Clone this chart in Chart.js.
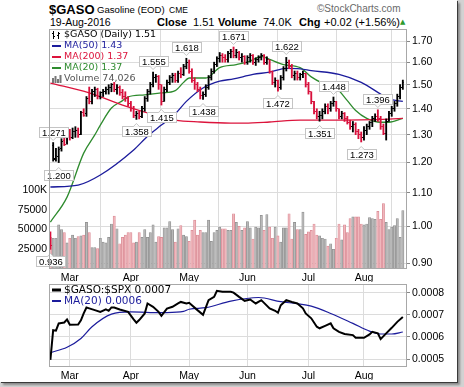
<!DOCTYPE html>
<html>
<head>
<meta charset="utf-8">
<script src="https://cdn.jsdelivr.net/npm/chart.js@4.4.1/dist/chart.umd.min.js"></script>
<style>
  html, body { margin: 0; padding: 0; background: #fff; }
  #page { position: relative; width: 464px; height: 387px; overflow: hidden; background: #d2d2d2; }
  #sheet { position: absolute; left: 0; top: 0; width: 457px; height: 382px; background: #fff;
           box-shadow: 1px 1px 0 #3a3a3a, 3px 3px 2px #8a8a8a; }
  .t { position: absolute; white-space: nowrap; line-height: 1; color: #000;
       font-family: "Liberation Sans", Arial, sans-serif; font-size: 10.5px; }
  .b { font-weight: bold; font-size: 11px; }
  #priceBox { position: absolute; left: 0; top: 0; width: 464px; height: 282px; }
  #ratioBox { position: absolute; left: 0; top: 268px; width: 464px; height: 119px; }
</style>
</head>
<body>
<div id="page">
  <div id="sheet"></div>
  <div class="t b" style="left:49px;top:3px;font-size:13px;">$GASO</div>
  <div class="t" style="left:97px;top:5px;font-size:9.6px;">Gasoline (EOD)</div>
  <div class="t" style="left:169px;top:6px;font-size:8.5px;">CME</div>
  <div class="t" style="left:317px;top:4px;font-size:10px;color:#6a6a6a;">&copy;StockCharts.com</div>
  <div class="t" style="left:50px;top:17px;">19-Aug-2016</div>
  <div class="t b" style="left:157px;top:17px;">Close</div>
  <div class="t" style="left:193px;top:17px;font-size:11px;">1.51</div>
  <div class="t b" style="left:218px;top:17px;">Volume</div>
  <div class="t" style="left:263px;top:17px;font-size:11px;">74.0K</div>
  <div class="t b" style="left:299px;top:17px;">Chg</div>
  <div class="t" style="left:324px;top:17px;font-size:11px;">+0.02 (+1.56%)</div>
  <div class="t" style="left:400px;top:19px;font-size:7px;color:#2e9a2e;font-family:'DejaVu Sans';">&#9650;</div>
  <div id="priceBox"><canvas id="priceChart"></canvas></div>
  <div id="ratioBox"><canvas id="ratioChart"></canvas></div>
</div>
<script>
// trading days shown on the chart
var dates = [
  '02/19','02/22','02/23','02/24','02/25','02/26','02/29',
  '03/01','03/02','03/03','03/04','03/07','03/08','03/09','03/10','03/11','03/14','03/15','03/16','03/17','03/18','03/21','03/22','03/23','03/24','03/28','03/29','03/30','03/31',
  '04/01','04/04','04/05','04/06','04/07','04/08','04/11','04/12','04/13','04/14','04/15','04/18','04/19','04/20','04/21','04/22','04/25','04/26','04/27','04/28','04/29',
  '05/02','05/03','05/04','05/05','05/06','05/09','05/10','05/11','05/12','05/13','05/16','05/17','05/18','05/19','05/20','05/23','05/24','05/25','05/26','05/27','05/31',
  '06/01','06/02','06/03','06/06','06/07','06/08','06/09','06/10','06/13','06/14','06/15','06/16','06/17','06/20','06/21','06/22','06/23','06/24','06/27','06/28','06/29','06/30',
  '07/01','07/05','07/06','07/07','07/08','07/11','07/12','07/13','07/14','07/15','07/18','07/19','07/20','07/21','07/22','07/25','07/26','07/27','07/28','07/29',
  '08/01','08/02','08/03','08/04','08/05','08/08','08/09','08/10','08/11','08/12','08/15','08/16','08/17','08/18','08/19'
];
var monthNames = { '03': 'Mar', '04': 'Apr', '05': 'May', '06': 'Jun', '07': 'Jul', '08': 'Aug' };

// [open, high, low, close]
var ohlc = [
  [0.98,0.984,0.936,0.945],[1.26,1.271,1.205,1.215],[1.21,1.25,1.205,1.225],[1.22,1.255,1.200,1.245],[1.25,1.285,1.24,1.275],
  [1.28,1.31,1.26,1.265],[1.27,1.315,1.265,1.30],[1.30,1.32,1.28,1.29],[1.29,1.325,1.285,1.31],[1.31,1.33,1.29,1.315],
  [1.315,1.325,1.29,1.30],[1.30,1.39,1.30,1.385],[1.385,1.40,1.37,1.375],[1.38,1.45,1.37,1.44],[1.44,1.49,1.42,1.43],
  [1.43,1.48,1.42,1.47],[1.47,1.49,1.45,1.48],[1.48,1.485,1.44,1.45],[1.45,1.47,1.44,1.465],[1.465,1.48,1.45,1.47],
  [1.47,1.49,1.46,1.48],[1.48,1.50,1.46,1.49],[1.49,1.505,1.47,1.50],[1.50,1.51,1.47,1.48],[1.48,1.50,1.46,1.49],
  [1.49,1.495,1.455,1.465],[1.465,1.48,1.44,1.45],[1.45,1.47,1.43,1.44],[1.44,1.45,1.41,1.42],[1.42,1.43,1.39,1.40],
  [1.40,1.41,1.365,1.375],[1.375,1.39,1.358,1.38],[1.38,1.39,1.36,1.37],[1.37,1.41,1.365,1.40],[1.40,1.45,1.39,1.44],
  [1.44,1.48,1.43,1.47],[1.47,1.51,1.46,1.50],[1.50,1.555,1.49,1.53],[1.53,1.545,1.51,1.535],[1.535,1.54,1.48,1.50],
  [1.50,1.50,1.415,1.43],[1.43,1.49,1.43,1.48],[1.48,1.52,1.47,1.51],[1.51,1.54,1.50,1.53],[1.53,1.55,1.51,1.54],
  [1.54,1.55,1.51,1.52],[1.52,1.56,1.51,1.55],[1.55,1.575,1.53,1.545],[1.545,1.59,1.54,1.58],[1.58,1.618,1.57,1.60],
  [1.60,1.61,1.55,1.56],[1.56,1.57,1.51,1.52],[1.52,1.53,1.48,1.50],[1.50,1.51,1.47,1.48],[1.48,1.49,1.44,1.455],
  [1.455,1.47,1.438,1.46],[1.46,1.50,1.45,1.49],[1.49,1.54,1.48,1.53],[1.53,1.57,1.52,1.56],[1.56,1.60,1.55,1.59],
  [1.59,1.625,1.58,1.615],[1.615,1.645,1.60,1.63],[1.63,1.64,1.60,1.62],[1.62,1.635,1.60,1.61],[1.61,1.65,1.60,1.64],
  [1.64,1.66,1.62,1.65],[1.65,1.671,1.62,1.63],[1.63,1.66,1.62,1.645],[1.645,1.65,1.61,1.62],[1.62,1.64,1.60,1.625],
  [1.625,1.63,1.59,1.60],[1.60,1.63,1.59,1.62],[1.62,1.64,1.60,1.63],[1.63,1.635,1.59,1.60],[1.60,1.62,1.585,1.61],
  [1.61,1.63,1.60,1.62],[1.62,1.64,1.61,1.63],[1.63,1.635,1.59,1.60],[1.60,1.625,1.59,1.61],[1.61,1.61,1.55,1.56],
  [1.56,1.56,1.50,1.51],[1.51,1.53,1.49,1.52],[1.52,1.52,1.472,1.49],[1.49,1.54,1.48,1.53],[1.53,1.58,1.52,1.57],
  [1.57,1.622,1.56,1.60],[1.60,1.61,1.57,1.58],[1.58,1.59,1.53,1.54],[1.54,1.56,1.52,1.55],[1.55,1.56,1.52,1.53],
  [1.53,1.55,1.52,1.545],[1.545,1.56,1.53,1.55],[1.55,1.55,1.49,1.50],[1.50,1.51,1.46,1.47],[1.47,1.47,1.42,1.43],
  [1.43,1.43,1.38,1.39],[1.39,1.40,1.36,1.37],[1.37,1.39,1.351,1.375],[1.375,1.40,1.36,1.39],[1.39,1.42,1.38,1.41],
  [1.41,1.42,1.38,1.40],[1.40,1.43,1.39,1.42],[1.42,1.448,1.41,1.43],[1.43,1.43,1.39,1.40],[1.40,1.40,1.36,1.37],
  [1.37,1.39,1.36,1.38],[1.38,1.385,1.35,1.36],[1.36,1.37,1.34,1.345],[1.345,1.355,1.32,1.33],[1.33,1.35,1.31,1.34],
  [1.34,1.345,1.30,1.31],[1.31,1.32,1.285,1.30],[1.30,1.31,1.273,1.29],[1.29,1.33,1.28,1.315],[1.315,1.34,1.30,1.33],
  [1.33,1.35,1.32,1.345],[1.345,1.37,1.33,1.36],[1.36,1.38,1.35,1.37],[1.37,1.396,1.35,1.36],[1.36,1.37,1.32,1.33],
  [1.33,1.34,1.30,1.305],[1.305,1.36,1.28,1.35],[1.35,1.39,1.35,1.38],[1.38,1.41,1.37,1.40],[1.40,1.43,1.39,1.42],
  [1.42,1.46,1.41,1.45],[1.45,1.50,1.44,1.49],[1.49,1.52,1.48,1.51]
];

// daily volume, thousands
var volumeK = [
  40,39,39,56,50,46,33,39,43,39, 41,42,43,59,46,27,27,26,39,34,
  33,40,57,67,51,32,40,43,46,46, 33,34,46,40,50,40,46,56,34,41,
  40,52,52,60,50,34,51,55,43,41, 35,49,62,43,49,46,46,62,35,46,
  49,53,51,51,49,49,70,59,54,49, 52,60,52,38,53,52,68,49,69,53,
  39,53,42,34,52,52,70,38,59,50, 50,72,44,47,49,57,43,42,39,38,
  29,32,25,39,57,37,56,46,64,66, 66,66,57,56,57,65,64,63,73,63,
  83,59,50,53,55,64,40,74.026
];

// moving averages: [day index, value]
var ma20 = [[0,1.012],[6,1.087],[12,1.233],[16,1.299],[18,1.336],[22,1.403],[26,1.433],[28,1.448],[34,1.457],[40,1.465],
  [45,1.475],[48,1.51],[50,1.529],[56,1.529],[61,1.575],[67,1.589],[72,1.605],[76,1.627],[79,1.613],[84,1.589],
  [90,1.575],[94,1.534],[98,1.507],[103,1.486],[107,1.433],[110,1.393],[114,1.362],[119,1.347],[122,1.347],[127,1.362]];
var ma50 = [[0,1.119],[10,1.125],[18,1.158],[30,1.244],[35,1.294],[40,1.336],[45,1.38],[49,1.43],[55,1.486],[61,1.515],
  [66,1.525],[73,1.545],[79,1.555],[85,1.572],[90,1.57],[94,1.562],[104,1.545],[112,1.51],[119,1.46],[122,1.44],[127,1.43]];
var ma200 = [[0,1.507],[14,1.465],[26,1.415],[34,1.387],[45,1.355],[54,1.348],[65,1.344],[70,1.344],[79,1.348],[90,1.355],
  [101,1.355],[112,1.356],[122,1.359],[127,1.362]];

// $GASO:$SPX ratio and its MA(20): [day index, value]
var ratio = [[0,0.000496],[1,0.00063],[2,0.000628],[3,0.000661],[4,0.000663],[5,0.000665],[6,0.000679],[7,0.000655],[10,0.000656],
  [11,0.000675],[12,0.000706],[13,0.000733],[14,0.000729],[16,0.000721],[18,0.000713],[20,0.000724],[21,0.000718],[22,0.000733],
  [23,0.000733],[25,0.000724],[28,0.000713],[30,0.000679],[31,0.000664],[32,0.000676],[34,0.000706],[35,0.000751],[37,0.000736],
  [39,0.000713],[40,0.000695],[42,0.000728],[44,0.000736],[46,0.000751],[47,0.000758],[49,0.000751],[50,0.000754],[51,0.000743],
  [53,0.000721],[55,0.0007],[57,0.000766],[59,0.000781],[60,0.000808],[62,0.000804],[65,0.000804],[66,0.0008],[68,0.000781],
  [70,0.000763],[72,0.000769],[74,0.000751],[76,0.000766],[79,0.000729],[81,0.000718],[82,0.000709],[83,0.000743],[85,0.000766],
  [87,0.000758],[89,0.000751],[91,0.000729],[92,0.000706],[94,0.000684],[96,0.000646],[97,0.000639],[99,0.00065],[101,0.000661],
  [102,0.000639],[104,0.000623],[106,0.000613],[109,0.000608],[110,0.000596],[113,0.000596],[115,0.000611],[116,0.000623],
  [118,0.000616],[119,0.00059],[121,0.000616],[123,0.000641],[125,0.000668],[127,0.00069]];
var ratioMa = [[0,0.000529],[6,0.000553],[11,0.000593],[15,0.000646],[22,0.000703],[29,0.000713],[36,0.00071],[42,0.00071],
  [48,0.000715],[50,0.000725],[56,0.000732],[65,0.000762],[75,0.000778],[83,0.000759],[89,0.00075],[94,0.000739],[101,0.000706],
  [109,0.000661],[115,0.000626],[119,0.000613],[123,0.000613],[127,0.000622]];

// swing labels
var peakIdx  = [0, 1, 3, 31, 37, 40, 49, 55, 66, 82, 85, 97, 102, 112, 118];
var peakVal  = [0.936, 1.271, 1.200, 1.358, 1.555, 1.415, 1.618, 1.438, 1.671, 1.472, 1.622, 1.351, 1.448, 1.273, 1.396];
var peakSide = ['low','high','low','low','high','low','high','low','high','low','high','low','high','low','high'];

var priceTicks = [0.90,0.95,1.00,1.05,1.10,1.15,1.20,1.25,1.30,1.35,1.40,1.45,1.50,1.55,1.60,1.65,1.70];
var volumeTicksK = [25, 50, 75, 100];
var ratioTicks = [0.0005, 0.0006, 0.0007, 0.0008];

var UP = '#000000', DOWN = '#d8103c';
var AXIS_FONT = { family: '"Liberation Sans", Arial, sans-serif', size: 10.5 };
var GRID = '#dcdcdc';

var monthTicks = [];
dates.forEach(function (d, i) {
  if (i > 0 && d.slice(0, 2) !== dates[i - 1].slice(0, 2)) monthTicks.push({ index: i, label: monthNames[d.slice(0, 2)] });
});
function monthLabel(v) {
  var m = monthTicks.find(function (t) { return t.index === v; });
  return m ? m.label : '';
}

var isUp = ohlc.map(function (b, i) { return i === 0 ? b[3] >= b[0] : b[3] >= ohlc[i - 1][3]; });

function tickCanvas(color, col) {
  var c = document.createElement('canvas');
  c.width = 3; c.height = 1;
  var g = c.getContext('2d');
  g.fillStyle = color;
  g.fillRect(col, 0, 1, 1);
  return c;
}
var openUp = tickCanvas(UP, 0), openDown = tickCanvas(DOWN, 0);
var closeUp = tickCanvas(UP, 2), closeDown = tickCanvas(DOWN, 2);

const toXY = pts => pts.map(p => ({ x: p[0], y: p[1] }));

const monthAxis = {
  type: 'linear', min: -0.5, max: 128.5, bounds: 'data', offset: false,
  afterBuildTicks: s => { s.ticks = monthTicks.map(m => ({ value: m.index })); },
  grid: { color: GRID, drawTicks: false },
  border: { display: false },
  ticks: { autoSkip: false, maxRotation: 0, padding: 3, color: '#000', font: AXIS_FONT, callback: v => monthLabel(v) }
};

const framePlugin = {
  id: 'frame',
  afterDraw(chart) {
    const { ctx, chartArea: a } = chart;
    ctx.save();
    ctx.strokeStyle = '#a8a8a8';
    ctx.lineWidth = 1;
    ctx.strokeRect(a.left + 0.5, a.top + 0.5, a.right - a.left - 1, a.bottom - a.top - 1);
    ctx.restore();
  }
};

const peakPlugin = {
  id: 'peaks',
  afterDatasetsDraw(chart) {
    const { ctx, scales } = chart;
    ctx.save();
    ctx.font = '9.5px "Liberation Sans", Arial, sans-serif';
    ctx.textAlign = 'center';
    ctx.textBaseline = 'middle';
    peakIdx.forEach((idx, k) => {
      const x = scales.x.getPixelForValue(idx);
      const y = scales.y.getPixelForValue(peakVal[k]);
      const txt = peakVal[k].toFixed(3);
      const w = Math.round(ctx.measureText(txt).width + 5), h = 10;
      const high = peakSide[k] === 'high';
      const cx = Math.max(x, w / 2 + 2);
      const bx = Math.round(cx - w / 2) + 0.5;
      const by = Math.round(high ? y - 6 - h : y + 7) + 0.5;
      ctx.fillStyle = '#fff';
      ctx.strokeStyle = '#c4c4c4';
      ctx.lineWidth = 1;
      ctx.fillRect(bx, by, w, h);
      ctx.strokeRect(bx, by, w, h);
      // little pointer towards the bar
      const py = high ? by + h : by;
      const dir = high ? 1 : -1;
      ctx.beginPath();
      ctx.moveTo(x - 3, py);
      ctx.lineTo(x, py + dir * 3);
      ctx.lineTo(x + 3, py);
      ctx.fill();
      ctx.stroke();
      ctx.fillRect(x - 2.5, py - dir * 0.5 - 0.5, 5, 1);
      ctx.fillStyle = '#000';
      ctx.fillText(txt, bx + w / 2, by + h / 2 + 0.5);
    });
    ctx.restore();
  }
};

const priceLegend = {
  id: 'priceLegend',
  afterDraw(chart) {
    const { ctx, chartArea: a } = chart;
    const x = a.left + 3, tx = a.left + 15;
    ctx.save();
    ctx.font = '9.5px "DejaVu Sans", Verdana, sans-serif';
    ctx.textBaseline = 'middle';
    // OHLC icon
    let y = a.top + 6;
    ctx.fillStyle = '#000';
    ctx.fillRect(x + 1, y - 4, 1, 8); ctx.fillRect(x, y - 2, 1, 1); ctx.fillRect(x + 2, y + 1, 1, 1);
    ctx.fillRect(x + 6, y - 3, 1, 7); ctx.fillRect(x + 5, y, 1, 1); ctx.fillRect(x + 7, y - 2, 1, 1);
    ctx.fillText('$GASO (Daily) 1.51', tx, y);
    const rows = [
      ['#1c1c9c', 'MA(50) 1.43'],
      ['#dc143c', 'MA(200) 1.37'],
      ['#2e8b2e', 'MA(20) 1.37']
    ];
    rows.forEach((r, k) => {
      y = a.top + 17 + k * 11;
      ctx.strokeStyle = r[0];
      ctx.lineWidth = 2;
      ctx.beginPath(); ctx.moveTo(x, y); ctx.lineTo(x + 9, y); ctx.stroke();
      ctx.fillStyle = r[0];
      ctx.fillText(r[1], tx, y);
    });
    // volume icon
    y = a.top + 50;
    ctx.fillStyle = '#777';
    [5, 7, 4, 8].forEach((hh, k) => ctx.fillRect(x + k * 2.5, y + 4 - hh, 2, hh));
    ctx.fillStyle = '#555';
    ctx.fillText('Volume 74,026', tx, y);
    ctx.restore();
  }
};

const ratioLegend = {
  id: 'ratioLegend',
  afterDraw(chart) {
    const { ctx, chartArea: a } = chart;
    const x = a.left + 3, tx = a.left + 15;
    ctx.save();
    ctx.font = '10.5px "DejaVu Sans", Verdana, sans-serif';
    ctx.textBaseline = 'middle';
    [['#000', 3, '$GASO:$SPX 0.0007', a.top + 6], ['#1c1c9c', 2, 'MA(20) 0.0006', a.top + 17]].forEach(r => {
      ctx.strokeStyle = r[0];
      ctx.lineWidth = r[1];
      ctx.beginPath(); ctx.moveTo(x, r[3]); ctx.lineTo(x + 9, r[3]); ctx.stroke();
      ctx.fillStyle = r[0];
      ctx.fillText(r[2], tx, r[3]);
    });
    ctx.restore();
  }
};

new Chart(document.getElementById('priceChart'), {
  type: 'bar',
  data: {
    datasets: [
      {
        type: 'bar', label: '$GASO', yAxisID: 'y', grouped: false, order: 0,
        data: ohlc.map((b, i) => ({ x: i, y: [b[2], b[1]] })),
        backgroundColor: isUp.map(u => u ? UP : DOWN),
        barThickness: 1.2, borderWidth: 0
      },
      {
        type: 'line', label: 'open', yAxisID: 'y', order: 0, showLine: false,
        data: ohlc.map((b, i) => ({ x: i, y: b[0] })),
        pointStyle: c => isUp[c.dataIndex] ? openUp : openDown, pointRadius: 1
      },
      {
        type: 'line', label: 'close', yAxisID: 'y', order: 0, showLine: false,
        data: ohlc.map((b, i) => ({ x: i, y: b[3] })),
        pointStyle: c => isUp[c.dataIndex] ? closeUp : closeDown, pointRadius: 1
      },
      {
        type: 'line', label: 'MA(200)', yAxisID: 'y', order: 1, data: toXY(ma200),
        borderColor: '#dc143c', borderWidth: 1.3, pointRadius: 0, cubicInterpolationMode: 'monotone'
      },
      {
        type: 'line', label: 'MA(50)', yAxisID: 'y', order: 1, data: toXY(ma50),
        borderColor: '#1c1c9c', borderWidth: 1.3, pointRadius: 0, cubicInterpolationMode: 'monotone'
      },
      {
        type: 'line', label: 'MA(20)', yAxisID: 'y', order: 1, data: toXY(ma20),
        borderColor: '#2e8b2e', borderWidth: 1.3, pointRadius: 0, cubicInterpolationMode: 'monotone'
      },
      {
        type: 'bar', label: 'Volume', yAxisID: 'yv', grouped: false, order: 2,
        data: volumeK.map((v, i) => ({ x: i, y: v })),
        backgroundColor: isUp.map(u => u ? '#b8b8b8' : '#efb7bc'),
        borderColor: isUp.map(u => u ? '#8e8e8e' : '#d98893'),
        borderWidth: 0.7, barThickness: 2.3
      }
    ]
  },
  options: {
    responsive: true, maintainAspectRatio: false, animation: false, events: [], devicePixelRatio: 1,
    layout: { padding: { top: 29, left: 0, right: 0, bottom: 0 } },
    plugins: { legend: { display: false }, tooltip: { enabled: false } },
    scales: {
      x: Object.assign({}, monthAxis, { afterFit: s => { s.height = 13; } }),
      y: {
        type: 'logarithmic', position: 'right', min: 0.8847, max: 1.7595, bounds: 'data',
        afterBuildTicks: s => { s.ticks = priceTicks.map(v => ({ value: v })); },
        afterFit: s => { s.width = 57; },
        grid: { color: GRID, tickLength: 3, tickColor: '#888' },
        border: { display: false },
        ticks: { padding: 2, color: '#000', font: AXIS_FONT, callback: v => Number(v).toFixed(2) }
      },
      yv: {
        type: 'linear', position: 'left', min: 0, max: 304, bounds: 'data',
        afterBuildTicks: s => { s.ticks = volumeTicksK.map(v => ({ value: v })); },
        afterFit: s => { s.width = 49; },
        grid: { display: false, drawTicks: false },
        border: { display: false },
        ticks: { padding: 2, color: '#000', font: AXIS_FONT, callback: v => v === 100 ? '100K' : String(v * 1000) }
      }
    }
  },
  plugins: [framePlugin, peakPlugin, priceLegend]
});

new Chart(document.getElementById('ratioChart'), {
  type: 'line',
  data: {
    datasets: [
      {
        label: '$GASO:$SPX', data: toXY(ratio), borderColor: '#000', borderWidth: 2,
        pointRadius: 0, tension: 0
      },
      {
        label: 'MA(20)', data: toXY(ratioMa), borderColor: '#1c1c9c', borderWidth: 1.2,
        pointRadius: 0, cubicInterpolationMode: 'monotone'
      }
    ]
  },
  options: {
    responsive: true, maintainAspectRatio: false, animation: false, events: [], devicePixelRatio: 1,
    layout: { padding: { top: 16, left: 49, right: 0, bottom: 7 } },
    plugins: { legend: { display: false }, tooltip: { enabled: false } },
    scales: {
      x: Object.assign({}, monthAxis, { afterFit: s => { s.height = 13; } }),
      y: {
        type: 'linear', position: 'right', min: 0.000464, max: 0.000839, bounds: 'data',
        afterBuildTicks: s => { s.ticks = ratioTicks.map(v => ({ value: v })); },
        afterFit: s => { s.width = 57; },
        grid: { color: GRID, tickLength: 3, tickColor: '#888' },
        border: { display: false },
        ticks: { padding: 2, color: '#000', font: AXIS_FONT, callback: v => Number(v).toFixed(4) }
      }
    }
  },
  plugins: [framePlugin, ratioLegend]
});
</script>
</body>
</html>
